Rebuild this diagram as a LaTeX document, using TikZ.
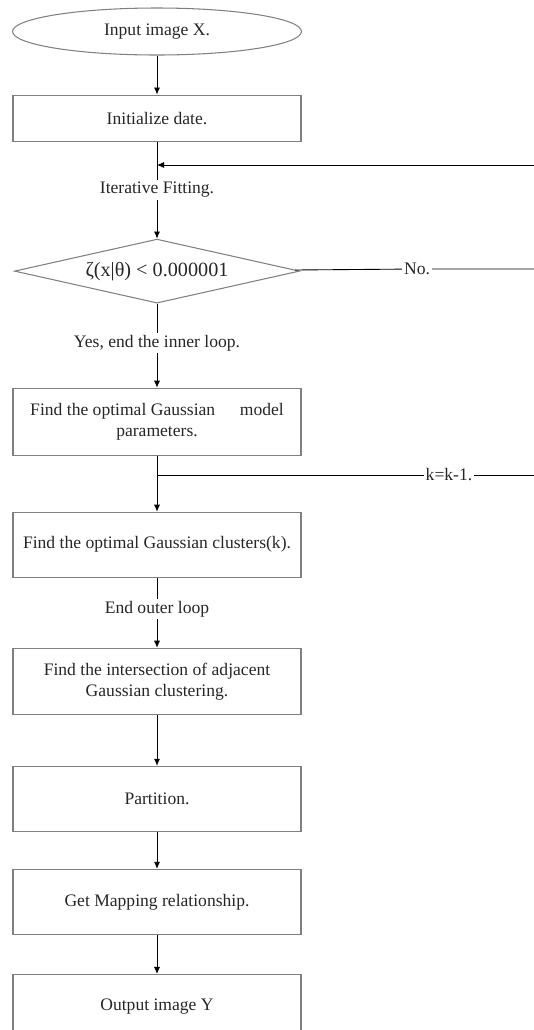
\documentclass[tikz,border=0pt]{standalone}
\usepackage{fontspec}
\setmainfont{Liberation Serif}
\usetikzlibrary{shapes.geometric, arrows.meta, positioning}

\begin{document}
\begin{tikzpicture}[>={Latex[length=4pt,width=3.5pt]}, line width=0.5pt,
  box/.style={rectangle, draw=gray, line width=0.6pt, minimum width=5.76cm, minimum height=#1, align=center, text=black!85},
  box/.default=1.3cm,
  start/.style={ellipse, draw=gray, line width=0.6pt, minimum width=5.78cm, minimum height=0.94cm, text=black!85},
  test/.style={diamond, aspect=4.5, inner sep=1pt, draw=gray, line width=0.6pt, minimum width=5.7cm, minimum height=1.28cm, font=\fontsize{11.5}{14}\selectfont, text=black!85},
  lbl/.style={fill=white, inner sep=1pt, text=black!85}]
  \useasboundingbox (0,0) rectangle (10.68,-20.6);
  \node[start] (in) at (3.14,-0.63) {Input image X.};
  \node[box=0.92cm, below=0.78cm of in] (init) {Initialize date.};
  \node[test, below=1.94cm of init] (cond) {ζ(x|θ) < 0.000001};
  \node[box=1.34cm, below=1.68cm of cond] (params) {Find the optimal Gaussian\hspace{1.4em}model\\parameters.};
  \node[box, below=1.12cm of params] (clus) {Find the optimal Gaussian clusters(k).};
  \node[box=1.32cm, below=1.4cm of clus] (inter) {Find the intersection of adjacent\\Gaussian clustering.};
  \node[box, below=1.02cm of inter] (part) {Partition.};
  \node[box, below=0.74cm of part] (map) {Get Mapping relationship.};
  \node[box, below=0.78cm of map] (out) {Output image Y};
  % labels on the connectors
  \node[lbl] (iter) at (3.14,-3.8) {Iterative Fitting.};
  \node[lbl] (yes) at (3.14,-6.86) {Yes, end the inner loop.};
  \node[lbl] (endo) at (3.14,-12.18) {End outer loop};
  \node[lbl] (no) at (8.34,-5.38) {No.};
  \node[lbl] (kk) at (8.98,-9.5) {k=k-1.};
  \coordinate (back) at (10.68,-3.3);
  \draw[->] (in) -- (init);
  \draw (init) -- (iter);
  \draw[->] (iter) -- (cond);
  \draw[->] (back) -- (back -| init.south);
  \draw (cond) -- (no) -- (no -| back);
  \draw (cond) -- (yes);
  \draw[->] (yes) -- (params);
  \draw[->] (params) -- (clus);
  \draw (params.south |- kk) -- (kk) -- (kk -| back);
  \draw (clus) -- (endo);
  \draw[->] (endo) -- (inter);
  \draw[->] (inter) -- (part);
  \draw[->] (part) -- (map);
  \draw[->] (map) -- (out);
\end{tikzpicture}
\end{document}
